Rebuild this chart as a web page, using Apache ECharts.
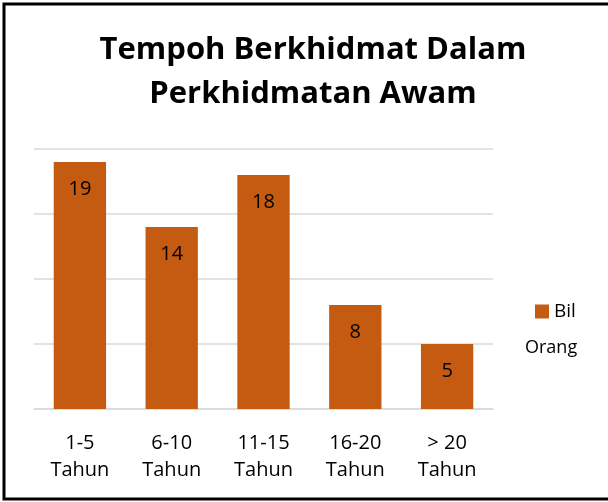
<!DOCTYPE html>
<html><head><meta charset="utf-8">
<script src="https://cdn.jsdelivr.net/npm/echarts@6/dist/echarts.min.js"></script>
<style>html,body{margin:0;padding:0;background:#fff}#c{width:608px;height:502px}</style>
</head><body><div id="c"></div>
<script>
const categories = ['1-5\nTahun', '6-10\nTahun', '11-15\nTahun', '16-20\nTahun', '> 20\nTahun'];
const values = [19, 14, 18, 8, 5];
const seriesName = 'Bil Orang';
const titleText = 'Tempoh Berkhidmat Dalam\nPerkhidmatan Awam';
const FF = '"Open Sans"';

const chart = echarts.init(document.getElementById('c'));
chart.setOption({
  backgroundColor: '#fff',
  animation: false,
  textStyle: { fontFamily: FF },
  title: {
    text: titleText, left: 308, top: 23, textAlign: 'center',
    textStyle: { fontFamily: FF, fontWeight: 'bold', fontSize: 31, lineHeight: 44, color: '#000' }
  },
  graphic: [
    { type: 'rect', shape: { x: 4, y: 4, width: 620, height: 495 }, style: { fill: 'none', stroke: '#000', lineWidth: 3 }, z: 100 },
    { type: 'text', left: 525, top: 339, style: { text: 'Orang', fontFamily: FF, fontSize: 18, fill: '#000' } }
  ],
  legend: {
    data: [seriesName], left: 530, top: 297, orient: 'vertical',
    itemWidth: 14, itemHeight: 14, itemGap: 6,
    icon: 'rect',
    formatter: function () { return 'Bil'; },
    textStyle: { fontFamily: FF, fontSize: 19, color: '#000' }
  },
  grid: { left: 34, right: 115, top: 149, bottom: 93 },
  xAxis: {
    type: 'category', data: categories,
    axisLine: { lineStyle: { color: '#d9d9d9', width: 1.5 } },
    axisTick: { show: false },
    axisLabel: { fontFamily: FF, fontSize: 20, color: '#000', lineHeight: 27, margin: 21 }
  },
  yAxis: {
    type: 'value', min: 0, max: 20, interval: 5,
    axisLabel: { show: false },
    axisLine: { show: false }, axisTick: { show: false },
    splitLine: { lineStyle: { color: '#d9d9d9', width: 1.5 } }
  },
  series: [{
    name: seriesName, type: 'bar', data: values,
    barWidth: '57%',
    itemStyle: { color: '#C55A11' },
    label: { show: true, position: 'insideTop', distance: 17, fontFamily: FF, fontSize: 20, color: '#000' }
  }]
});
</script></body></html>
